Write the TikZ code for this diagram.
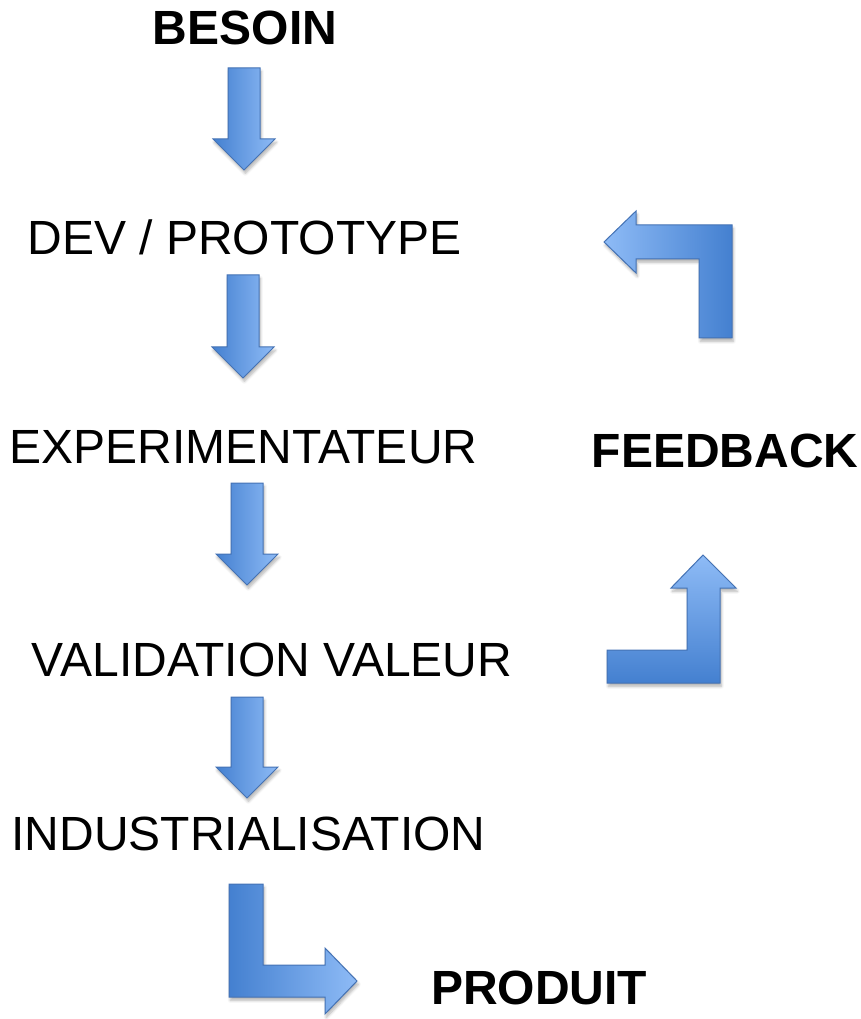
\documentclass[tikz,border=0pt]{standalone}
\usepackage{fontspec}
\setmainfont{Liberation Sans}
\usetikzlibrary{shadows.blur}
\definecolor{arrdark}{RGB}{68,128,208}
\definecolor{arrlight}{RGB}{142,187,246}
\definecolor{arrline}{RGB}{68,114,180}
\begin{document}
\begin{tikzpicture}[x=0.75pt,y=0.75pt,yscale=-1,xscale=1,
    blockarrow/.style={draw=arrline,line width=0.75pt,line join=miter,
        blur shadow={shadow xshift=1pt,shadow yshift=-2.5pt,shadow opacity=30,shadow blur steps=6}},
    steptext/.style={inner sep=0pt,anchor=base,font=\fontsize{36}{43}\selectfont},
    keytext/.style={steptext,font=\fontsize{36}{43}\selectfont\bfseries}]
    \useasboundingbox (0,0) rectangle (860,1019);

    % Text Node
    \draw (245,45) node [keytext] (besoin) {BESOIN};
    % Text Node
    \draw (244.5,255) node [steptext] (dev) {DEV / PROTOTYPE};
    % Text Node
    \draw (243.5,463) node [steptext] (experim) {EXPERIMENTATEUR};
    % Text Node
    \draw (725,467) node [keytext] (feedback) {FEEDBACK};
    % Text Node
    \draw (272,676) node [steptext] (validation) {VALIDATION VALEUR};
    % Text Node
    \draw (248.5,850) node [steptext] (indus) {INDUSTRIALISATION};
    % Text Node
    \draw (539,1004) node [keytext] (produit) {PRODUIT};

    %Down Arrow besoin -> dev
    \draw [blockarrow,left color=arrdark,right color=arrlight] (228,68) -- (260,68) -- (260,139) -- (275,139) -- (244,170) -- (213,139) -- (228,139) -- cycle ;
    %Down Arrow dev -> experim
    \draw [blockarrow,left color=arrdark,right color=arrlight] (227,275) -- (259,275) -- (259,347) -- (274,347) -- (243,378) -- (212,347) -- (227,347) -- cycle ;
    %Down Arrow experim -> validation
    \draw [blockarrow,left color=arrdark,right color=arrlight] (231,483) -- (263,483) -- (263,554) -- (278,554) -- (247,585) -- (216,554) -- (231,554) -- cycle ;
    %Down Arrow validation -> indus
    \draw [blockarrow,left color=arrdark,right color=arrlight] (231,697) -- (263,697) -- (263,767) -- (278,767) -- (247,798) -- (216,767) -- (231,767) -- cycle ;

    %Bent Arrow indus -> produit
    \draw [blockarrow,left color=arrdark,right color=arrlight] (229,884) -- (263,884) -- (263,965) -- (325,965) -- (325,948) -- (357,981) -- (325,1014) -- (325,997) -- (229,997) -- cycle ;
    %Bent Arrow validation -> feedback
    \draw [blockarrow,top color=arrlight,bottom color=arrdark] (607,683) -- (720,683) -- (720,588) -- (736,588) -- (703,555) -- (671,588) -- (687,588) -- (687,650) -- (607,650) -- cycle ;
    %Bent Arrow feedback -> dev
    \draw [blockarrow,left color=arrlight,right color=arrdark] (732,338) -- (732,225) -- (636,225) -- (636,211) -- (604,242) -- (636,273) -- (636,259) -- (699,259) -- (699,338) -- cycle ;
\end{tikzpicture}
\end{document}
